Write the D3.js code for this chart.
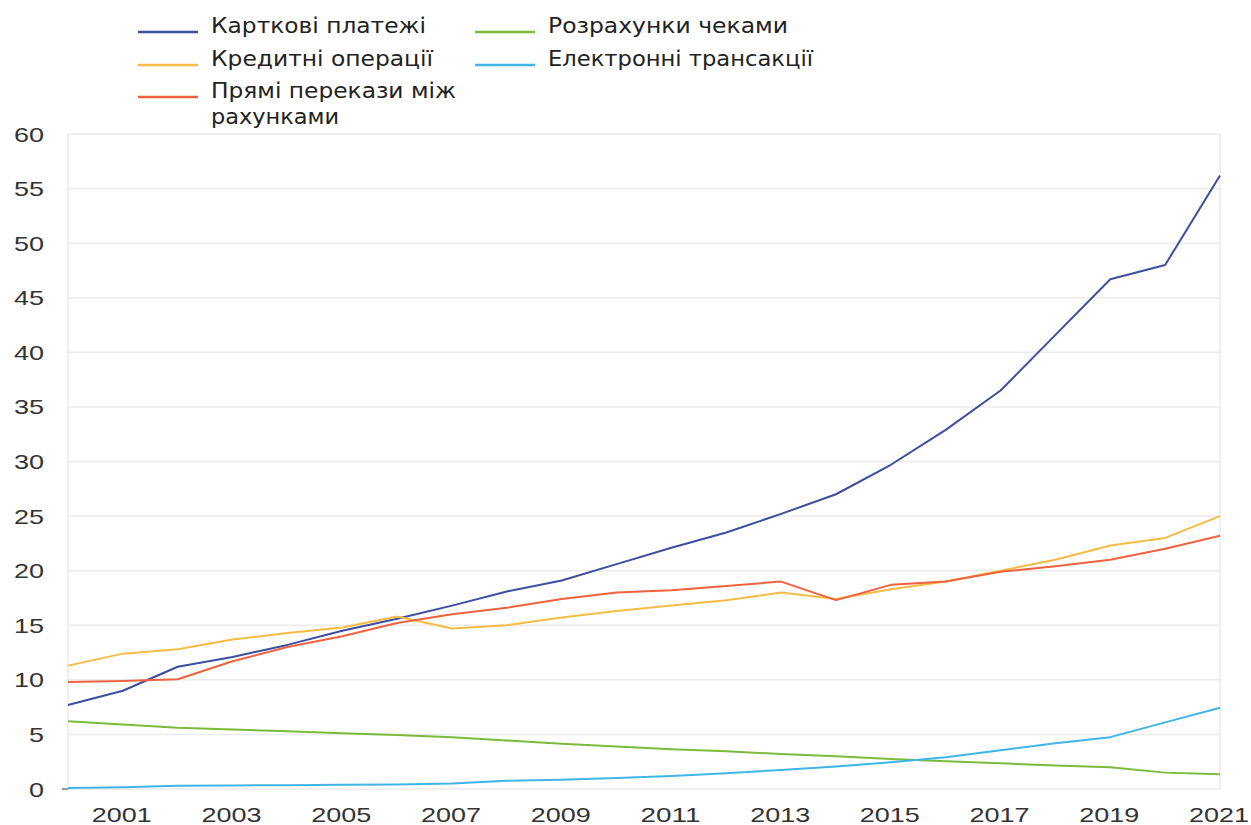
<!DOCTYPE html>
<html>
<head>
<meta charset="utf-8">
<script src="https://cdn.jsdelivr.net/npm/d3@7"></script>
<style>
  html, body { margin: 0; padding: 0; background: #fff; }
  svg { display: block; }
</style>
</head>
<body>
<svg id="chart" width="1251" height="825"></svg>
<script>
// ---- data ----
const years = d3.range(2000, 2022);
const cardPayments   = [7.7, 9.0, 11.2, 12.1, 13.2, 14.5, 15.6, 16.8, 18.1, 19.1, 20.6, 22.1, 23.5, 25.2, 27.0, 29.7, 32.9, 36.5, 41.6, 46.7, 48.0, 56.2];
const creditOps      = [11.3, 12.4, 12.8, 13.7, 14.3, 14.8, 15.8, 14.7, 15.0, 15.7, 16.3, 16.8, 17.3, 18.0, 17.4, 18.3, 19.0, 20.0, 21.0, 22.3, 23.0, 25.0];
const directTransfer = [9.8, 9.9, 10.05, 11.7, 13.0, 14.0, 15.2, 16.0, 16.6, 17.4, 18.0, 18.2, 18.6, 19.0, 17.3, 18.7, 19.0, 19.9, 20.4, 21.0, 22.0, 23.2];
const chequePayments = [6.2, 5.9, 5.6, 5.45, 5.3, 5.1, 4.95, 4.75, 4.45, 4.15, 3.9, 3.65, 3.45, 3.2, 3.0, 2.75, 2.55, 2.35, 2.15, 2.0, 1.5, 1.35];
const eTransactions  = [0.1, 0.15, 0.3, 0.33, 0.35, 0.38, 0.42, 0.5, 0.75, 0.85, 1.0, 1.2, 1.45, 1.75, 2.05, 2.45, 2.9, 3.55, 4.2, 4.75, 6.1, 7.45];

const seriesNames  = ["Карткові платежі", "Кредитні операції", "Прямі перекази між рахунками", "Розрахунки чеками", "Електронні трансакції"];
const seriesValues = [cardPayments, creditOps, directTransfer, chequePayments, eTransactions];
const seriesColors = ["#3c4e9e", "#f6bb45", "#f0623f", "#7cba3b", "#3fb6e6"];
const yTicks = d3.range(0, 61, 5);
const xTicks = d3.range(2001, 2022, 2);

// ---- layout ----
const svg = d3.select("#chart");
const plot = { left: 68, right: 1220, top: 134, bottom: 789 };

const x = d3.scaleLinear().domain([2000, 2021]).range([plot.left, plot.right]);
const y = d3.scaleLinear().domain([0, 60]).range([plot.bottom, plot.top]);

// grid
svg.append("g")
  .selectAll("line").data(yTicks).join("line")
  .attr("x1", plot.left).attr("x2", plot.right)
  .attr("y1", d => y(d)).attr("y2", d => y(d))
  .attr("stroke", "#ebebeb").attr("stroke-width", 1.5);

svg.append("g")
  .selectAll("line").data([plot.left, plot.right]).join("line")
  .attr("x1", d => d).attr("x2", d => d)
  .attr("y1", plot.top).attr("y2", plot.bottom)
  .attr("stroke", "#ebebeb").attr("stroke-width", 1.5);

// zero tick dash
svg.append("line")
  .attr("x1", plot.left - 6).attr("x2", plot.left)
  .attr("y1", y(0)).attr("y2", y(0))
  .attr("stroke", "#555").attr("stroke-width", 1.2);

// y axis labels
svg.append("g")
  .selectAll("text").data(yTicks).join("text")
  .attr("x", 44).attr("y", d => y(d))
  .attr("dy", "0.36em")
  .attr("text-anchor", "end")
  .attr("font-family", "Liberation Sans, Arial, sans-serif")
  .attr("font-size", 21)
  .attr("fill", "#333")
  .attr("textLength", d => String(d).length * 15)
  .attr("lengthAdjust", "spacingAndGlyphs")
  .text(d => d);

// x axis labels
svg.append("g")
  .selectAll("text").data(xTicks).join("text")
  .attr("x", d => x(d) - 1).attr("y", 822)
  .attr("text-anchor", "middle")
  .attr("font-family", "Liberation Sans, Arial, sans-serif")
  .attr("font-size", 21)
  .attr("fill", "#333")
  .attr("textLength", 60)
  .attr("lengthAdjust", "spacingAndGlyphs")
  .text(d => d);

// lines
const line = d3.line().x((d, i) => x(years[i])).y(d => y(d));
svg.append("g")
  .selectAll("path").data(seriesValues).join("path")
  .attr("fill", "none")
  .attr("stroke", (d, i) => seriesColors[i])
  .attr("stroke-width", 2)
  .attr("stroke-linejoin", "round")
  .attr("d", line);

// legend (two columns, the third entry wraps onto two lines)
const legendPos = [[138, 33], [138, 66], [138, 98], [475, 33], [475, 66]];
const legendLines = [["Карткові платежі"], ["Кредитні операції"], ["Прямі перекази між", "рахунками"], ["Розрахунки чеками"], ["Електронні трансакції"]];
const legendWidths = [[215], [222], [245, 128], [240], [265]];

const legend = svg.append("g")
  .selectAll("g").data(seriesNames).join("g")
  .attr("transform", (d, i) => `translate(${legendPos[i][0]},${legendPos[i][1]})`);

legend.append("line")
  .attr("x1", 0).attr("x2", 60).attr("y1", -1).attr("y2", -1)
  .attr("stroke", (d, i) => seriesColors[i]).attr("stroke-width", 2.5);

legend.each(function (d, i) {
  const g = d3.select(this);
  legendLines[i].forEach((p, k) => {
    g.append("text")
      .attr("x", 73).attr("y", k * 26)
      .attr("font-family", "DejaVu Sans, Verdana, sans-serif")
      .attr("font-size", 21)
      .attr("fill", "#222")
      .attr("textLength", legendWidths[i][k])
      .attr("lengthAdjust", "spacingAndGlyphs")
      .text(p);
  });
});
</script>
</body>
</html>
